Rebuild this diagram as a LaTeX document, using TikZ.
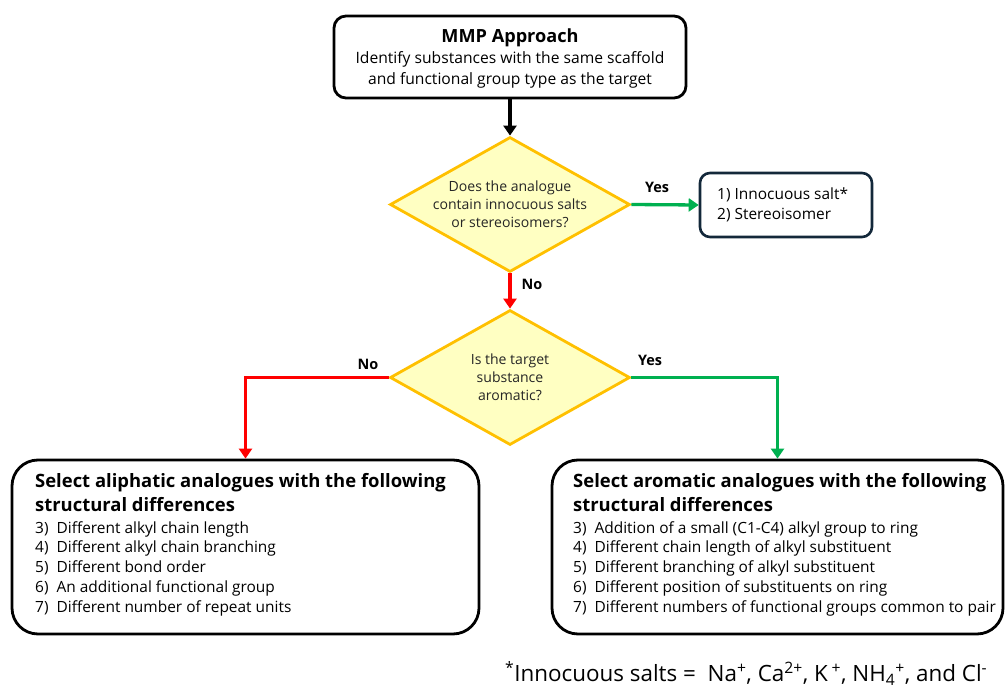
\documentclass[tikz,border=0pt]{standalone}
\usepackage{fontspec}
\setmainfont{Open Sans}
\usetikzlibrary{shapes.geometric,arrows.meta}
\definecolor{ygreen}{HTML}{00B050}
\definecolor{ored}{HTML}{FF0000}
\definecolor{gold}{HTML}{FFC000}
\definecolor{paleyellow}{HTML}{FFFFC2}
\definecolor{navy}{HTML}{13283A}
\tikzset{
  blackbox/.style={draw=black, line width=2.8bp, rounded corners=12bp, fill=white},
  bigbox/.style={draw=black, line width=2.8bp, rounded corners=26bp, fill=white},
  smallbox/.style={draw=navy, line width=2.6bp, rounded corners=10bp, fill=white},
  dia/.style={diamond, draw=gold, fill=paleyellow, line width=2.8bp, inner sep=0pt, minimum width=240bp, minimum height=135bp},
  qtext/.style={align=center, font=\fontsize{14.1}{18}\selectfont, text=black!85},
  conn/.style={line width=3.3bp, -{Triangle[length=10bp,width=13bp]}},
  lbl/.style={font=\bfseries\fontsize{14.5}{16}\selectfont},
}
\begin{document}
\begin{tikzpicture}[x=1bp,y=-1bp]
\useasboundingbox (0,0) rectangle (1005,690);
% top box
\node[blackbox, minimum width=352bp, minimum height=82bp] (top) at (510,57) {};
\node[align=center, inner sep=0pt, font=\fontsize{15.7}{21.3}\selectfont] at (510,58.5) {{\bfseries\fontsize{18.2}{21}\selectfont MMP Approach}\\
  Identify substances with the same scaffold\\ and functional group type as the target};
% diamond 1
\node[dia] (d1) at (510,204.5) {};
\node[qtext] at ([yshift=0.5bp]d1.center) {Does the analogue\\contain innocuous salts\\or stereoisomers?};
% small box
\node[smallbox, minimum width=172bp, minimum height=64bp] (sb) at (786,205) {};
\node[anchor=west, align=left, inner sep=0pt, font=\fontsize{15.5}{20}\selectfont] at (717,205) {1) Innocuous salt*\\2) Stereoisomer};
% diamond 2
\node[dia] (d2) at (510,377.5) {};
\node[qtext] at ([yshift=0.5bp]d2.center) {Is the target\\substance\\aromatic?};
% bottom boxes
\node[bigbox, minimum width=467bp, minimum height=174bp] (L) at (245.5,547) {};
\node[bigbox, minimum width=451bp, minimum height=174bp] (R) at (777.5,547) {};
% left box text
\node[anchor=north west, align=left, inner sep=0pt, font=\bfseries\fontsize{18.5}{24}\selectfont] at (35,473) {Select aliphatic analogues with the following\\structural differences};
\node[anchor=north west, align=left, inner sep=0pt, font=\fontsize{15.5}{20}\selectfont] at (35,521) {3)\ \ Different alkyl chain length\\4)\ \ Different alkyl chain branching\\5)\ \ Different bond order\\6)\ \ An additional functional group\\7)\ \ Different number of repeat units};
% right box text
\node[anchor=north west, align=left, inner sep=0pt, font=\bfseries\fontsize{18.5}{24}\selectfont] at (573,473) {Select aromatic analogues with the following\\structural differences};
\node[anchor=north west, align=left, inner sep=0pt, font=\fontsize{15.5}{20}\selectfont] at (573,521) {3)\ \ Addition of a small (C1-C4) alkyl group to ring\\4)\ \ Different chain length of alkyl substituent\\5)\ \ Different branching of alkyl substituent\\6)\ \ Different position of substituents on ring\\7)\ \ Different numbers of functional groups common to pair};
% connectors
\draw[conn, black] (top.south) -- (d1.north);
\draw[conn, ygreen] (d1.east) -- (sb.west);
\draw[conn, ored] (d1.south) -- (d2.north);
\draw[conn, ored] (d2.west) -| (L.north);
\draw[conn, ygreen] (d2.east) -| (R.north);
% labels
\node[lbl] at (657,187) {Yes};
\node[lbl] at (532,284) {No};
\node[lbl] at (368,364) {No};
\node[lbl] at (650,360) {Yes};
% footnote
\node[anchor=base west, inner sep=0pt, font=\fontsize{22.5}{24}\selectfont] at (505,681) {\textsuperscript{*}Innocuous salts =\ \ Na\textsuperscript{+}, Ca\textsuperscript{2+}, K\,\textsuperscript{+}, NH\textsubscript{4}\textsuperscript{+}, and Cl\textsuperscript{-}};
\end{tikzpicture}
\end{document}
